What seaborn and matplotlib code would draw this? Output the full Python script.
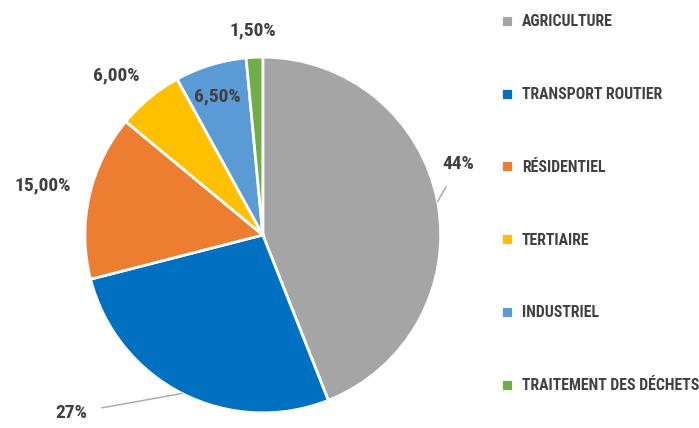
import numpy as np
import matplotlib.pyplot as plt
import seaborn as sns

sns.set_theme(style="white")
plt.rcParams['font.family'] = ['Roboto Condensed', 'DejaVu Sans Condensed',
                               'Liberation Sans Narrow', 'DejaVu Sans']

# données
categories = ["Agriculture", "Transport routier", "Résidentiel", "Tertiaire",
              "Industriel", "Traitement des déchets"]
values = [44, 27, 15, 6, 6.5, 1.5]
labels = ["44%", "27%", "15,00%", "6,00%", "6,50%", "1,50%"]
colors = ["#A5A5A5", "#0070C0", "#ED7D31", "#FFC000", "#5B9BD5", "#70AD47"]

# position des étiquettes (rayon, décalage angulaire en degrés, ligne de rappel)
label_pos = [(1.17, 9, True), (1.47, -20, True), (1.27, 0, False),
             (1.22, 3, False), (0.82, 1, False), (1.15, 0, False)]

txt_color = "#404040"

fig = plt.figure(figsize=(6.99, 4.28), dpi=100)
ax = fig.add_axes([0.119, 0.031, 0.514, 0.84])

wedges, _ = ax.pie(values, colors=sns.color_palette(colors), startangle=90,
                   counterclock=False,
                   wedgeprops=dict(edgecolor="white", linewidth=2))
ax.set_xlim(-1.01, 1.01)
ax.set_ylim(-1.01, 1.01)
ax.set_aspect("equal")

for w, lab, (r, dang, line) in zip(wedges, labels, label_pos):
    mid = np.deg2rad((w.theta1 + w.theta2) / 2)
    ang = mid + np.deg2rad(dang)
    tx, ty = r * np.cos(ang), r * np.sin(ang)
    if line:
        ax.annotate(lab, xy=(np.cos(mid), np.sin(mid)), xytext=(tx, ty),
                    ha="center", va="center", fontsize=14, fontweight="bold",
                    color=txt_color,
                    arrowprops=dict(arrowstyle="-", color="#A6A6A6", lw=1,
                                    shrinkA=8, shrinkB=0))
    else:
        ax.text(tx, ty, lab, ha="center", va="center", fontsize=14,
                fontweight="bold", color=txt_color)

fs = 11.3
leg = fig.legend(wedges, [c.upper() for c in categories], loc="upper left",
                 bbox_to_anchor=(0.705, 0.985), frameon=False, fontsize=fs,
                 borderpad=0, handlelength=0.8, handleheight=0.8,
                 handletextpad=0.55, labelspacing=3.68)
for t in leg.get_texts():
    t.set_color(txt_color)
    t.set_fontweight("bold")

fig.savefig("out.png", dpi=100)
